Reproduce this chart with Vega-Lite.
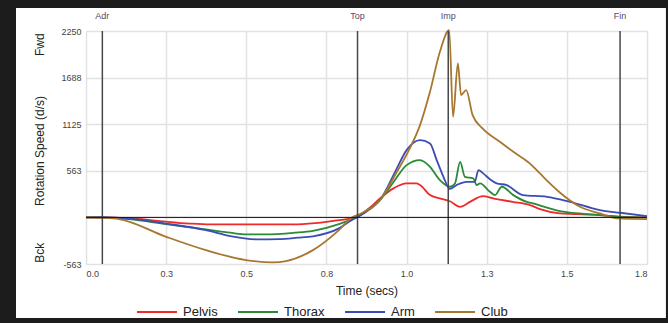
{
  "$schema": "https://vega.github.io/schema/vega-lite/v6.json",
  "width": 561,
  "height": 233,
  "autosize": {"type": "none"},
  "padding": {"left": 86, "top": 31, "right": 21, "bottom": 59},
  "background": "white",
  "config": {"font": "Liberation Sans", "view": {"stroke": null}},
  "datasets": {
    "curves": [
      {"part": "Pelvis", "t": 0, "v": 0}, {"part": "Pelvis", "t": 0.05, "v": 0}, {"part": "Pelvis", "t": 0.134, "v": -10}, {"part": "Pelvis", "t": 0.231, "v": -45}, {"part": "Pelvis", "t": 0.324, "v": -75}, {"part": "Pelvis", "t": 0.387, "v": -85}, {"part": "Pelvis", "t": 0.646, "v": -85}, {"part": "Pelvis", "t": 0.714, "v": -70}, {"part": "Pelvis", "t": 0.776, "v": -40}, {"part": "Pelvis", "t": 0.83, "v": -8}, {"part": "Pelvis", "t": 0.848, "v": 15}, {"part": "Pelvis", "t": 0.886, "v": 120}, {"part": "Pelvis", "t": 0.917, "v": 229}, {"part": "Pelvis", "t": 0.959, "v": 350}, {"part": "Pelvis", "t": 1.0, "v": 410}, {"part": "Pelvis", "t": 1.03, "v": 410}, {"part": "Pelvis", "t": 1.042, "v": 390}, {"part": "Pelvis", "t": 1.073, "v": 269}, {"part": "Pelvis", "t": 1.104, "v": 230}, {"part": "Pelvis", "t": 1.135, "v": 195}, {"part": "Pelvis", "t": 1.167, "v": 128}, {"part": "Pelvis", "t": 1.198, "v": 188}, {"part": "Pelvis", "t": 1.238, "v": 257}, {"part": "Pelvis", "t": 1.27, "v": 229}, {"part": "Pelvis", "t": 1.331, "v": 188}, {"part": "Pelvis", "t": 1.385, "v": 148}, {"part": "Pelvis", "t": 1.416, "v": 100}, {"part": "Pelvis", "t": 1.478, "v": 48}, {"part": "Pelvis", "t": 1.603, "v": 28}, {"part": "Pelvis", "t": 1.666, "v": 10}, {"part": "Pelvis", "t": 1.75, "v": 0},
      {"part": "Thorax", "t": 0, "v": 0}, {"part": "Thorax", "t": 0.05, "v": 0}, {"part": "Thorax", "t": 0.134, "v": -20}, {"part": "Thorax", "t": 0.25, "v": -81}, {"part": "Thorax", "t": 0.374, "v": -145}, {"part": "Thorax", "t": 0.45, "v": -185}, {"part": "Thorax", "t": 0.5, "v": -205}, {"part": "Thorax", "t": 0.56, "v": -205}, {"part": "Thorax", "t": 0.65, "v": -185}, {"part": "Thorax", "t": 0.708, "v": -162}, {"part": "Thorax", "t": 0.789, "v": -81}, {"part": "Thorax", "t": 0.83, "v": -20}, {"part": "Thorax", "t": 0.848, "v": 15}, {"part": "Thorax", "t": 0.886, "v": 110}, {"part": "Thorax", "t": 0.917, "v": 209}, {"part": "Thorax", "t": 0.96, "v": 430}, {"part": "Thorax", "t": 1.0, "v": 631}, {"part": "Thorax", "t": 1.042, "v": 692}, {"part": "Thorax", "t": 1.073, "v": 611}, {"part": "Thorax", "t": 1.104, "v": 450}, {"part": "Thorax", "t": 1.135, "v": 370}, {"part": "Thorax", "t": 1.151, "v": 410}, {"part": "Thorax", "t": 1.167, "v": 671}, {"part": "Thorax", "t": 1.182, "v": 490}, {"part": "Thorax", "t": 1.208, "v": 471}, {"part": "Thorax", "t": 1.219, "v": 390}, {"part": "Thorax", "t": 1.229, "v": 410}, {"part": "Thorax", "t": 1.26, "v": 309}, {"part": "Thorax", "t": 1.276, "v": 269}, {"part": "Thorax", "t": 1.297, "v": 370}, {"part": "Thorax", "t": 1.333, "v": 269}, {"part": "Thorax", "t": 1.375, "v": 188}, {"part": "Thorax", "t": 1.394, "v": 169}, {"part": "Thorax", "t": 1.478, "v": 75}, {"part": "Thorax", "t": 1.603, "v": 28}, {"part": "Thorax", "t": 1.666, "v": 7}, {"part": "Thorax", "t": 1.75, "v": 0},
      {"part": "Arm", "t": 0, "v": 0}, {"part": "Arm", "t": 0.05, "v": 0}, {"part": "Arm", "t": 0.134, "v": -15}, {"part": "Arm", "t": 0.25, "v": -75}, {"part": "Arm", "t": 0.374, "v": -153}, {"part": "Arm", "t": 0.45, "v": -225}, {"part": "Arm", "t": 0.54, "v": -266}, {"part": "Arm", "t": 0.6, "v": -262}, {"part": "Arm", "t": 0.66, "v": -245}, {"part": "Arm", "t": 0.708, "v": -228}, {"part": "Arm", "t": 0.789, "v": -133}, {"part": "Arm", "t": 0.83, "v": -30}, {"part": "Arm", "t": 0.848, "v": 5}, {"part": "Arm", "t": 0.886, "v": 100}, {"part": "Arm", "t": 0.917, "v": 209}, {"part": "Arm", "t": 0.967, "v": 571}, {"part": "Arm", "t": 1.0, "v": 812}, {"part": "Arm", "t": 1.042, "v": 933}, {"part": "Arm", "t": 1.073, "v": 893}, {"part": "Arm", "t": 1.094, "v": 692}, {"part": "Arm", "t": 1.115, "v": 490}, {"part": "Arm", "t": 1.135, "v": 345}, {"part": "Arm", "t": 1.156, "v": 390}, {"part": "Arm", "t": 1.187, "v": 430}, {"part": "Arm", "t": 1.213, "v": 430}, {"part": "Arm", "t": 1.224, "v": 571}, {"part": "Arm", "t": 1.239, "v": 531}, {"part": "Arm", "t": 1.26, "v": 460}, {"part": "Arm", "t": 1.281, "v": 410}, {"part": "Arm", "t": 1.312, "v": 390}, {"part": "Arm", "t": 1.363, "v": 269}, {"part": "Arm", "t": 1.438, "v": 249}, {"part": "Arm", "t": 1.51, "v": 188}, {"part": "Arm", "t": 1.603, "v": 88}, {"part": "Arm", "t": 1.666, "v": 56}, {"part": "Arm", "t": 1.75, "v": 16},
      {"part": "Club", "t": 0, "v": 0}, {"part": "Club", "t": 0.05, "v": -5}, {"part": "Club", "t": 0.103, "v": -20}, {"part": "Club", "t": 0.25, "v": -234}, {"part": "Club", "t": 0.374, "v": -395}, {"part": "Club", "t": 0.499, "v": -515}, {"part": "Club", "t": 0.583, "v": -543}, {"part": "Club", "t": 0.624, "v": -527}, {"part": "Club", "t": 0.708, "v": -395}, {"part": "Club", "t": 0.789, "v": -153}, {"part": "Club", "t": 0.83, "v": 0}, {"part": "Club", "t": 0.848, "v": 30}, {"part": "Club", "t": 0.917, "v": 208}, {"part": "Club", "t": 0.97, "v": 550}, {"part": "Club", "t": 1.01, "v": 833}, {"part": "Club", "t": 1.042, "v": 1114}, {"part": "Club", "t": 1.073, "v": 1516}, {"part": "Club", "t": 1.104, "v": 1999}, {"part": "Club", "t": 1.133, "v": 2260}, {"part": "Club", "t": 1.145, "v": 1214}, {"part": "Club", "t": 1.16, "v": 1859}, {"part": "Club", "t": 1.17, "v": 1476}, {"part": "Club", "t": 1.186, "v": 1537}, {"part": "Club", "t": 1.206, "v": 1235}, {"part": "Club", "t": 1.237, "v": 1074}, {"part": "Club", "t": 1.291, "v": 913}, {"part": "Club", "t": 1.333, "v": 792}, {"part": "Club", "t": 1.385, "v": 650}, {"part": "Club", "t": 1.416, "v": 531}, {"part": "Club", "t": 1.447, "v": 410}, {"part": "Club", "t": 1.478, "v": 300}, {"part": "Club", "t": 1.541, "v": 128}, {"part": "Club", "t": 1.603, "v": 48}, {"part": "Club", "t": 1.656, "v": -12}, {"part": "Club", "t": 1.75, "v": -20}
    ],
    "events": [
      {"event": "Adr", "t": 0.051}, {"event": "Top", "t": 0.847}, {"event": "Imp", "t": 1.13}, {"event": "Fin", "t": 1.666}
    ]
  },
  "layer": [
    {
      "data": {"name": "curves"},
      "mark": {"type": "line", "strokeWidth": 1.8, "clip": false, "interpolate": "monotone"},
      "encoding": {
        "x": {
          "field": "t", "type": "quantitative",
          "scale": {"domain": [0, 1.75], "nice": false, "zero": false},
          "axis": {
            "values": [0, 0.25, 0.5, 0.75, 1.0, 1.25, 1.5, 1.75],
            "format": ".1f",
            "domain": false, "ticks": false,
            "grid": true, "gridColor": "#e2e2e2", "gridWidth": 1.5,
            "labelFontSize": 9, "labelColor": "#444", "labelPadding": 5,
            "title": "Time (secs)", "titleFontSize": 12, "titleFontWeight": "normal", "titleColor": "#222", "titlePadding": 7
          }
        },
        "y": {
          "field": "v", "type": "quantitative",
          "scale": {"domain": [-562.5, 2250], "nice": false, "zero": false},
          "axis": {
            "values": [-562.5, 0, 562.5, 1125, 1687.5, 2250],
            "labelExpr": "datum.value == 0 ? '' : (datum.value < 0 ? '-' : '') + format(abs(datum.value), '.0f')",
            "domain": false, "ticks": false,
            "grid": true, "gridColor": "#e2e2e2", "gridWidth": 1.5,
            "labelFontSize": 9, "labelColor": "#444", "labelPadding": 5,
            "title": "Bck\u00a0\u00a0\u00a0\u00a0\u00a0\u00a0\u00a0\u00a0\u00a0\u00a0\u00a0Rotation Speed (d/s)\u00a0\u00a0\u00a0\u00a0\u00a0\u00a0\u00a0\u00a0\u00a0\u00a0\u00a0\u00a0Fwd",
            "titleFontSize": 12, "titleFontWeight": "normal", "titleColor": "#222", "titlePadding": 14
          }
        },
        "color": {
          "field": "part", "type": "nominal",
          "scale": {"domain": ["Pelvis", "Thorax", "Arm", "Club"], "range": ["#ee2a2a", "#2a8a38", "#3b4db2", "#a8772f"]},
          "legend": {
            "orient": "none", "legendX": 50, "legendY": 260, "direction": "horizontal", "columns": 4,
            "title": null, "symbolType": "stroke", "symbolSize": 1600, "symbolStrokeWidth": 2,
            "labelFontSize": 13, "labelColor": "#222", "labelOffset": 5, "columnPadding": 16, "padding": 0
          }
        }
      }
    },
    {
      "data": {"name": "events"},
      "mark": {"type": "rule", "color": "#484848", "strokeWidth": 1.5},
      "encoding": {"x": {"field": "t", "type": "quantitative"}}
    },
    {
      "data": {"values": [{"v": 0}]},
      "mark": {"type": "rule", "color": "#111", "strokeWidth": 1},
      "encoding": {"y": {"field": "v", "type": "quantitative"}}
    },
    {
      "data": {"name": "events"},
      "mark": {"type": "text", "fontSize": 9, "color": "#5a4868", "dy": -15, "align": "center", "baseline": "middle"},
      "encoding": {
        "x": {"field": "t", "type": "quantitative"},
        "y": {"datum": 2250, "type": "quantitative"},
        "text": {"field": "event"}
      }
    },
    {
      "data": {"values": [{}]},
      "mark": {"type": "rect", "fill": null, "stroke": "#1c1c1c", "strokeWidth": 16, "clip": false},
      "encoding": {
        "x": {"datum": -0.2433, "type": "quantitative"},
        "x2": {"datum": 1.834},
        "y": {"datum": 2624, "type": "quantitative"},
        "y2": {"datum": -1311}
      }
    }
  ]
}
